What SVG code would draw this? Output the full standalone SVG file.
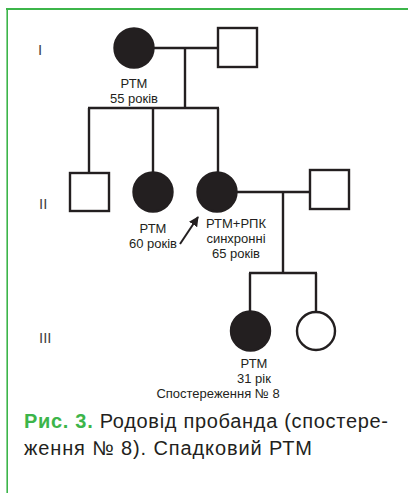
<svg xmlns="http://www.w3.org/2000/svg" width="408" height="493" viewBox="0 0 408 493">
<defs>
<style>
.ln{stroke:#231f20;stroke-width:2.4;fill:none}
.aff{fill:#231f20;stroke:#231f20;stroke-width:2.4}
.un{fill:#fff;stroke:#231f20;stroke-width:2.4}
.lb{font-family:"Liberation Sans",Arial,sans-serif;font-size:13px;fill:#231f20;text-anchor:middle}
.gen{font-family:"Liberation Sans",sans-serif;font-size:15px;fill:#444}
.cap{font-family:"Liberation Sans",Arial,sans-serif;font-size:20px;fill:#231f20}
</style>
<marker id="ah" viewBox="0 0 10 10" refX="9" refY="5" markerWidth="5" markerHeight="5" orient="auto"><path d="M0,0 L10,5 L0,10 z" fill="#231f20"/></marker>
</defs>
<rect width="408" height="493" fill="#fff"/>
<g id="border">
<line x1="6" y1="9" x2="408" y2="9" stroke="#3cb54a" stroke-width="2.2"/>
<line x1="7.2" y1="8" x2="7.2" y2="493" stroke="#3cb54a" stroke-width="1.6"/>
</g>
<g id="generations">
<text class="gen" x="38" y="55">I</text>
<text class="gen" x="39" y="209">II</text>
<text class="gen" x="39" y="343">III</text>
</g>
<g id="connectors">
<line class="ln" x1="154" y1="48" x2="218" y2="48"/>
<line class="ln" x1="185" y1="48" x2="185" y2="108"/>
<line class="ln" x1="88" y1="108" x2="219" y2="108"/>
<line class="ln" x1="89" y1="108" x2="89" y2="173"/>
<line class="ln" x1="153" y1="108" x2="153" y2="172"/>
<line class="ln" x1="218" y1="108" x2="218" y2="172"/>
<line class="ln" x1="237" y1="192" x2="310" y2="192"/>
<line class="ln" x1="283" y1="192" x2="283" y2="273"/>
<line class="ln" x1="249" y1="273" x2="317" y2="273"/>
<line class="ln" x1="250" y1="273" x2="250" y2="311"/>
<line class="ln" x1="316" y1="273" x2="316" y2="311"/>
<line x1="180" y1="244" x2="198" y2="217" stroke="#231f20" stroke-width="2" marker-end="url(#ah)"/>
</g>
<g id="I-1"><circle class="aff" cx="134" cy="48" r="19.5"/>
<text class="lb" x="134" y="88">РТМ</text><text class="lb" x="134" y="103">55 років</text></g>
<g id="I-2"><rect class="un" x="218" y="28" width="39" height="39"/></g>
<g id="II-1"><rect class="un" x="70" y="173" width="39" height="38"/></g>
<g id="II-2"><circle class="aff" cx="153" cy="192" r="19.5"/>
<text class="lb" x="153" y="233">РТМ</text><text class="lb" x="153" y="248">60 років</text></g>
<g id="II-3"><circle class="aff" cx="217" cy="192" r="19.5"/>
<text class="lb" x="236" y="228">РТМ+РПК</text><text class="lb" x="236" y="243">синхронні</text><text class="lb" x="236" y="258">65 років</text></g>
<g id="II-4"><rect class="un" x="310" y="170" width="39" height="39"/></g>
<g id="III-1"><circle class="aff" cx="250.5" cy="331" r="19.5"/>
<text class="lb" x="254" y="368">РТМ</text><text class="lb" x="254" y="383">31 рік</text><text class="lb" x="218" y="398">Спостереження № 8</text></g>
<g id="III-2"><circle class="un" cx="316" cy="331" r="19"/></g>
<g id="caption">
<text class="cap" x="24" y="428" textLength="364" lengthAdjust="spacing"><tspan font-weight="bold" fill="#3cb54a">Рис. 3.</tspan> Родовід пробанда (спостере-</text>
<text class="cap" x="24" y="455" textLength="288" lengthAdjust="spacing">ження № 8). Спадковий РТМ</text>
</g>
</svg>
